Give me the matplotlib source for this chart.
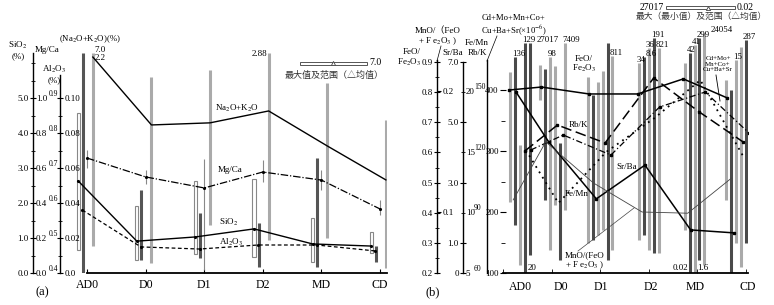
import numpy as np
import matplotlib
matplotlib.use('Agg')
import matplotlib.pyplot as plt
from matplotlib.lines import Line2D
from matplotlib.patches import Rectangle

plt.rcParams['font.family'] = ['Liberation Serif', 'Noto Sans CJK SC']
plt.rcParams['mathtext.fontset'] = 'stix'
plt.rcParams['font.size'] = 6.5
plt.rcParams['axes.linewidth'] = 1.0

cats = ['AD0', 'D0', 'D1', 'D2', 'MD', 'CD']

# ---------------- (a) means and ranges ----------------
sio2_mean = [2.63, 0.91, 1.03, 1.26, 0.83, 0.77]
sio2_max = [4.57, 1.91, 2.63, 2.69, 1.57, 1.17]
sio2_min = [0.66, 0.37, 0.54, 0.46, 0.31, 0.57]
mgca_mean = [0.657, 0.549, 0.486, 0.577, 0.531, 0.366]
mgca_max = [0.703, 0.589, 0.651, 0.646, 0.589, 0.417]
mgca_min = [0.600, 0.509, 0.017, 0.520, 0.474, 0.331]
al2o3_mean = [0.036, 0.0149, 0.0137, 0.016, 0.016, 0.0126]
al2o3_max = [7.0, 0.0474, 0.0343, 0.0286, 0.0657, 0.0154]
al2o3_min = [0.0, 0.0074, 0.0086, 0.0034, 0.0034, 0.0063]
alk_mean = [1.017, 0.823, 0.829, 0.863, 0.763, 0.666]
alk_max = [2.2, 0.96, 0.98, 2.88, 0.943, 0.837]
alk_min = [0.477, 0.429, 0.537, 0.494, 0.50, 0.414]

# ---------------- (b) means ----------------
feo_mean = [0.807, 0.817, 0.794, 0.794, 0.844, 0.781]
srba_mean = [6.0, 4.35, 2.46, 3.58, 1.43, 1.33]
rbk_mean = [15.06, 17.2, 15.72, 21.08, 18.27, 15.8]
cd_mean = [301.6, 326.2, 293.4, 372.1, 396.7, 329.5]
femn_mean = [120.8, 94.6, 119.8, 136.7, 155.4, 116.9]
mno_mean = [0.110, 0.158, 0.124, 0.100, 0.099, 0.128]

# (b) range bars, read on the Cd+Mo+... scale
b_bar_cat = [0, 0, 0, 0, 0,
             1, 1, 1, 1, 1, 1,
             2, 2, 2, 2, 2, 2,
             3, 3, 3, 3, 3,
             4, 4, 4, 4, 4,
             5, 5, 5, 5, 5, 5]
b_bar_hi = [429.5, 454.1, 309.8, 477, 477,
            441, 434.4, 454.1, 439.3, 313.1, 477,
            421.3, 391.8, 413.1, 431.1, 477, 455.7,
            444.3, 454.1, 468.9, 485.2, 468.9,
            444.3, 460.7, 473.8, 485.2, 493.4,
            416.4, 400, 449.2, 470.5, 482, 454.1]
b_bar_lo = [216.4, 178.7, 113.1, 100, 129.5,
            383.6, 219.7, 137.7, 211.5, 121.3, 203.3,
            149.2, 154.1, 162.3, 170.5, 121.3, 137.7,
            154.1, 162.3, 137.7, 132.8, 132.8,
            170.5, 100, 100, 121.3, 113.1,
            219.7, 100, 149.2, 109.8, 149.2, 203.3]
b_bar_dark = [0, 1, 0, 1, 1,
              0, 1, 0, 0, 1, 0,
              0, 1, 0, 0, 1, 0,
              0, 1, 0, 1, 0,
              0, 1, 0, 1, 0,
              0, 1, 0, 0, 1, 0]
b_top_lbl = ['', '136', '', '129', '27017',
             '', '', '98', '', '', '7409',
             '', '', '', '', '', '811',
             '34', '8.6', '36', '191', '821',
             '', '42', '41', '299', '24054',
             '', '', '15', '', '287', '633']
b_bot_lbl = ['', '', '', '20', '',
             '', '', '', '', '', '',
             '', '', '', '', '', '',
             '', '', '', '', '',
             '', '0.02', '1.6', '', '',
             '', '', '', '', '', '']

W, H = 774, 305
fig = plt.figure(figsize=(W / 100, H / 100), dpi=100)


def fx(x):
    return x / W


def fy(y):
    return 1 - y / H


def twin(ax, lo, hi):
    t = ax.twinx()
    t.set_ylim(lo, hi)
    for s in t.spines.values():
        s.set_visible(False)
    t.set_yticks([])
    t.patch.set_visible(False)
    return t


def ftext(x, y, s, **kw):
    kw.setdefault('ha', 'center')
    kw.setdefault('va', 'center')
    kw.setdefault('linespacing', 1.05)
    return fig.text(fx(x), fy(y), s, **kw)


# =============== panel (a) ===============
# category step 58.6 px, AD0 at x=87 px
a_left = 87 - 0.35 * 58.6
a_w = 387 - a_left
ax_a = fig.add_axes([fx(a_left), 32 / H, a_w / W, 233 / H])
ax_a.set_xlim(-0.35, 300 / 58.6)
ax_a.set_ylim(0, 233 / 35)
ax_a.spines['top'].set_visible(False)
ax_a.spines['right'].set_visible(False)
ax_a.spines['bottom'].set_linewidth(1.3)
ax_a.spines['bottom'].set_bounds(0, 300 / 58.6)
ax_a.spines['left'].set_position(('axes', (33 - a_left) / a_w))
ax_a.spines['left'].set_bounds(0, 6.29)
ax_a.set_xticks(range(6))
ax_a.set_xticklabels(cats, fontsize=8.5)
ax_a.tick_params(axis='x', direction='in', length=3, pad=4)
ax_a.set_yticks(np.arange(0, 5.1, 1))
ax_a.set_yticklabels(['%.1f' % v for v in np.arange(0, 5.1, 1)])
ax_a.set_yticks(np.arange(0.5, 6.3, 0.5), minor=True)
ax_a.tick_params(axis='y', which='major', direction='inout', length=4, pad=1)
ax_a.tick_params(axis='y', which='minor', direction='inout', length=2.5)

xa = np.arange(len(cats))
mg_lim = (0, 233 / 175)
al_lim = (0, 233 / 1750)
alk_lim = (0.4, 0.4 + 233 / 350)
pos_si = (33 - a_left) / a_w
pos_al = (60 - a_left) / a_w

# axis scales
ax_mg = twin(ax_a, *mg_lim)
ax_mg.spines['right'].set_visible(True)
ax_mg.spines['right'].set_position(('axes', pos_si))
ax_mg.spines['right'].set_color('none')
ax_mg.set_yticks(np.arange(0, 1.01, 0.2))
ax_mg.set_yticklabels(['%.1f' % v for v in np.arange(0, 1.01, 0.2)])
ax_mg.tick_params(axis='y', length=0, pad=2)

ax_al = twin(ax_a, *al_lim)
ax_al.spines['right'].set_visible(True)
ax_al.spines['right'].set_position(('axes', pos_al))
ax_al.spines['right'].set_bounds(0, 0.113)
ax_al.set_yticks(np.arange(0, 0.101, 0.02))
ax_al.set_yticklabels(['0.0', '0.02', '0.04', '0.06', '0.08', '0.10'])
ax_al.set_yticks(np.arange(0.01, 0.11, 0.02), minor=True)
ax_al.tick_params(axis='y', which='major', direction='inout', length=4, pad=1)
ax_al.tick_params(axis='y', which='minor', direction='inout', length=2.5)

ax_alk = twin(ax_a, *alk_lim)
ax_alk.yaxis.tick_left()
ax_alk.spines['left'].set_visible(True)
ax_alk.spines['left'].set_position(('axes', pos_al))
ax_alk.spines['left'].set_color('none')
ax_alk.set_yticks(np.arange(0.4, 0.91, 0.1))
ax_alk.set_yticklabels(['%.1f' % v for v in np.arange(0.4, 0.91, 0.1)],
                       va='bottom', fontsize=5.5)
ax_alk.tick_params(axis='y', length=0, pad=1)

# range bars
ax_a.bar(xa - 0.15, np.array(sio2_max) - np.array(sio2_min), bottom=sio2_min,
         width=0.055, facecolor='white', edgecolor='#888888', lw=0.8, zorder=1)
bar_mg = twin(ax_a, *mg_lim)
bar_mg.vlines(xa, mgca_min, mgca_max, color='#888888', lw=0.8)
bar_al = twin(ax_a, *al_lim)
al_cap = 0.126
bar_al.vlines(xa - 0.07, al2o3_min, np.minimum(al2o3_max, al_cap), color='#555555', lw=2.2)
bar_alk = twin(ax_a, *alk_lim)
alk_cap = 1.03
bar_alk.vlines(xa + 0.1, alk_min, np.minimum(alk_max, alk_cap), color='#aaaaaa', lw=2.2)

for i, v in enumerate(al2o3_max):
    if v > al_cap:
        bar_al.annotate(str(v), (xa[i] - 0.07, al_cap), xytext=(8.5, 1.5),
                        textcoords='offset points', ha='left', va='center')
for i, v in enumerate(alk_max):
    if v > alk_cap:
        if i == 0:
            bar_alk.annotate(str(v), (xa[i] + 0.1, alk_cap), xytext=(1.5, -4),
                             textcoords='offset points', ha='left', va='center')
        else:
            bar_alk.annotate(str(v), (xa[i] + 0.1, alk_cap), xytext=(-1, -1),
                             textcoords='offset points', ha='right', va='center')

# mean lines
ln_si = twin(ax_a, 0, 233 / 35)
ln_si.plot(xa - 0.15, sio2_mean, color='k', lw=1.0, marker='.', ms=2.5)
ln_mg = twin(ax_a, *mg_lim)
ln_mg.plot(xa, mgca_mean, color='k', lw=0.9, ls=(0, (6, 1.5, 1, 1.5)), marker='.', ms=2.5)
ln_al = twin(ax_a, *al_lim)
ln_al.plot(xa - 0.08, al2o3_mean, color='k', lw=0.9, ls=(0, (3, 2)), marker='.', ms=2.5)
ln_alk = twin(ax_a, *alk_lim)
ln_alk.plot(xa + 0.1, alk_mean, color='k', lw=1.0)

# labels (a)
ftext(237, 108, 'Na$_2$O+K$_2$O')
ftext(230, 170, 'Mg/Ca')
ftext(229, 222, 'SiO$_2$')
ftext(231, 242, 'Al$_2$O$_3$')
ftext(42, 292, '(a)', fontsize=9)
ftext(18, 50, 'SiO$_2$\n(%)')
ftext(47, 50, 'Mg/Ca')
ftext(59, 39.5, '(Na$_2$O+K$_2$O)(%)', ha='left', fontsize=6.3)
ftext(54, 74, 'Al$_2$O$_3$\n(%)')

fig.add_artist(Rectangle((fx(300), fy(64.5)), 67 / W, 3 / H, transform=fig.transFigure,
                         facecolor='white', edgecolor='#555555', lw=0.7))
fig.add_artist(Line2D([fx(333)], [fy(63)], marker='^', ms=3, mfc='white', mec='#444444',
                      mew=0.6, transform=fig.transFigure))
ftext(369, 62.5, '7.0', ha='left', fontsize=7)
ftext(334, 75, '最大值及范围（△均值）', fontsize=6.5, color='#333333')

# =============== panel (b) ===============
ax_b = fig.add_axes([fx(503), 32 / H, 245 / W, 248 / H])
ax_b.set_xlim(0, 5)
ax_b.set_ylim(100, 100 + 248 / 0.61)
ax_b.spines['top'].set_visible(False)
ax_b.spines['left'].set_visible(False)
ax_b.spines['bottom'].set_linewidth(1.3)
ax_b.yaxis.tick_right()
ax_b.spines['right'].set_position(('axes', -16 / 245))
ax_b.spines['right'].set_bounds(100, 449)
ax_b.set_yticks([100, 200, 300, 400])
ax_b.set_yticks([150, 250, 350], minor=True)
ax_b.tick_params(axis='y', which='major', direction='inout', length=4, pad=1)
ax_b.tick_params(axis='y', which='minor', direction='inout', length=2.5)

cat_b = np.array([0.35, 1.02, 2.0, 3.0, 3.94, 4.84])
b_lbl_x = [0.35, 1.2, 2.02, 3.04, 3.96, 5.04]
ax_b.set_xticks(b_lbl_x)
ax_b.set_xticklabels(cats, fontsize=8.5)
ax_b.tick_params(axis='x', which='major', length=0, pad=6)
ax_b.set_xticks(range(6), minor=True)
ax_b.tick_params(axis='x', which='minor', direction='in', length=3)

fe_lim = (0.2, 0.2 + 248 / 301.4)
mn_lim = (0.1 - 61 / 1210, 0.1 - 61 / 1210 + 248 / 1210)
sr_lim = (0, 248 / 30.14)
rb_lim = (5, 5 + 248 / 12.13)
fm_lim = (60, 60 + 248 / 2.022)

ax_fe = twin(ax_b, *fe_lim)
ax_fe.yaxis.tick_left()
ax_fe.spines['left'].set_visible(True)
ax_fe.spines['left'].set_position(('axes', -66 / 245))
ax_fe.spines['left'].set_bounds(0.2, 0.907)
ax_fe.set_yticks(np.arange(0.2, 0.91, 0.1))
ax_fe.set_yticklabels(['%.1f' % v for v in np.arange(0.2, 0.91, 0.1)])
ax_fe.set_yticks(np.arange(0.25, 0.9, 0.1), minor=True)
ax_fe.tick_params(axis='y', which='major', direction='inout', length=4, pad=1)
ax_fe.tick_params(axis='y', which='minor', direction='inout', length=2.5)

ax_mn = twin(ax_b, *mn_lim)
ax_mn.spines['right'].set_visible(True)
ax_mn.spines['right'].set_position(('axes', -66 / 245))
ax_mn.spines['right'].set_color('none')
ax_mn.set_yticks([0.1, 0.2])
ax_mn.set_yticklabels(['0.1', '0.2'])
ax_mn.tick_params(axis='y', direction='out', length=3, pad=1)

ax_sr = twin(ax_b, *sr_lim)
ax_sr.yaxis.tick_left()
ax_sr.spines['left'].set_visible(True)
ax_sr.spines['left'].set_position(('axes', -40 / 245))
ax_sr.spines['left'].set_bounds(0, 7.0)
ax_sr.set_yticks([0, 1, 3, 5, 7])
ax_sr.set_yticklabels(['0', '1.0', '3.0', '5.0', '7.0'])
ax_sr.set_yticks([2, 4, 6], minor=True)
ax_sr.tick_params(axis='y', which='major', direction='inout', length=4, pad=1)
ax_sr.tick_params(axis='y', which='minor', direction='inout', length=2.5)

ax_rb = twin(ax_b, *rb_lim)
ax_rb.spines['right'].set_visible(True)
ax_rb.spines['right'].set_position(('axes', -40 / 245))
ax_rb.spines['right'].set_color('none')
ax_rb.set_yticks([5, 10, 15, 20])
ax_rb.set_yticklabels(['5', '10', '15', '20'])
ax_rb.tick_params(axis='y', length=0, pad=2)

ax_fm = twin(ax_b, *fm_lim)
ax_fm.spines['right'].set_visible(True)
ax_fm.spines['right'].set_position(('axes', -40 / 245))
ax_fm.spines['right'].set_color('none')
ax_fm.set_yticks([60, 90, 120, 150])
ax_fm.set_yticklabels(['60', '90', '120', '150'], va='bottom', fontsize=5.5)
ax_fm.tick_params(axis='y', length=0, pad=8)

# range bars (b)
b_x = np.zeros(len(b_bar_cat))
for c in range(len(cats)):
    idx = [i for i in range(len(b_bar_cat)) if b_bar_cat[i] == c]
    for k, i in enumerate(idx):
        b_x[i] = cat_b[c] + (k - (len(idx) - 1) / 2) * 0.1
b_col = ['#4a4a4a' if d else '#aaaaaa' for d in b_bar_dark]
ax_b.vlines(b_x, b_bar_lo, b_bar_hi, colors=b_col, lw=2.2, zorder=1)
top_texts = []
for i in range(len(b_x)):
    if b_top_lbl[i]:
        t = ax_b.annotate(b_top_lbl[i], (b_x[i], b_bar_hi[i]), xytext=(-2, -1),
                          textcoords='offset points', ha='left', va='bottom', fontsize=6.3)
        top_texts.append(t)
    if b_bot_lbl[i]:
        ha = 'right' if b_bar_cat[i] == 4 and b_bar_dark[i] else 'left'
        dx = -1 if ha == 'right' else 2
        ax_b.annotate(b_bot_lbl[i], (b_x[i], 100), xytext=(dx, 1),
                      textcoords='offset points', ha=ha, va='bottom', fontsize=6.5)

# mean lines (b)
ln_fe = twin(ax_b, *fe_lim)
ln_fe.plot(cat_b - 0.23, feo_mean, color='k', lw=1.1, marker='s', ms=1.5)
ln_sr = twin(ax_b, *sr_lim)
ln_sr.plot(cat_b - 0.08, srba_mean, color='k', lw=1.1, marker='s', ms=1.5)
ln_rb = twin(ax_b, *rb_lim)
ln_rb.plot(cat_b + 0.1, rbk_mean, color='k', lw=1.1, ls=(0, (7, 3)), marker='s', ms=1.5)
ln_cd = twin(ax_b, 100, 100 + 248 / 0.61)
ln_cd.plot(cat_b + 0.22, cd_mean, color='k', lw=0.9, ls=(0, (5, 2, 1, 2)), marker='s', ms=1.5)
ln_fm = twin(ax_b, *fm_lim)
ln_fm.plot(cat_b + 0.12, femn_mean, color='k', lw=1.3, ls=(0, (1, 2.5)))
ln_mn = twin(ax_b, *mn_lim)
ln_mn.plot(cat_b - 0.14, mno_mean, color='#444444', lw=0.6)

# labels (b)
ftext(421, 58, 'FeO/\nFe$_2$O$_3$', ha='right')
ftext(438, 37, 'MnO/（FeO\n+ F e$_2$O$_3$ )')
ftext(453, 53, 'Sr/Ba')
ftext(477, 53, 'Rb/K')
ftext(477, 43, 'Fe/Mn')
ftext(514, 25.5, 'Cd+Mo+Mn+Co+\nCu+Ba+Sr(×10$^{-6}$)', fontsize=6.2)
ftext(433, 292, '(b)', fontsize=9)
fig.add_artist(Line2D([fx(487), fx(497)], [fy(61), fy(36)], color='k', lw=0.5,
                      transform=fig.transFigure))
fig.add_artist(Line2D([fx(437), fx(441)], [fy(61), fy(46)], color='k', lw=0.5,
                      transform=fig.transFigure))

ftext(584, 64.5, 'FeO/\nFe$_2$O$_3$')
ftext(578, 125, 'Rb/K')
ftext(627, 167, 'Sr/Ba')
ftext(577, 194, 'Fe/Mn')
ftext(585, 261, 'MnO/(FeO\n+ F e$_2$O$_3$ )')
fig.add_artist(Line2D([fx(578), fx(634)], [fy(251), fy(208)], color='#444444', lw=0.5,
                      transform=fig.transFigure))
ftext(718, 64, 'Cd+Mo+\nMn+Co+\nCu+Ba+Sr', fontsize=5)
fig.add_artist(Line2D([fx(716), fx(720)], [fy(75), fy(101)], color='k', lw=0.6,
                      transform=fig.transFigure))

fig.add_artist(Rectangle((fx(666), fy(9)), 69 / W, 3 / H, transform=fig.transFigure,
                         facecolor='white', edgecolor='#555555', lw=0.7))
fig.add_artist(Line2D([fx(708)], [fy(7.5)], marker='^', ms=3, mfc='white', mec='#444444',
                      mew=0.6, transform=fig.transFigure))
ftext(664, 7, '27017', ha='right', fontsize=7)
ftext(737, 7.5, '0.02', ha='left', fontsize=7)
ftext(701, 17, '最大（最小值）及范围（△均值）', fontsize=6.3, color='#333333')

# push crowded top labels to the right so they do not cover each other
fig.canvas.draw()
rend = fig.canvas.get_renderer()
placed = []
for t in top_texts:
    bb = t.get_window_extent(rend)
    for pb in placed:
        vov = min(bb.y1, pb.y1) - max(bb.y0, pb.y0)
        if vov > 2 and bb.x0 < pb.x1 and bb.x1 > pb.x0:
            shift = (pb.x1 + 1 - bb.x0) * 72 / 100
            dx, dy = t.xyann
            t.xyann = (dx + shift, dy)
            bb = t.get_window_extent(rend)
    placed.append(bb)

fig.savefig('out.png', dpi=100)
